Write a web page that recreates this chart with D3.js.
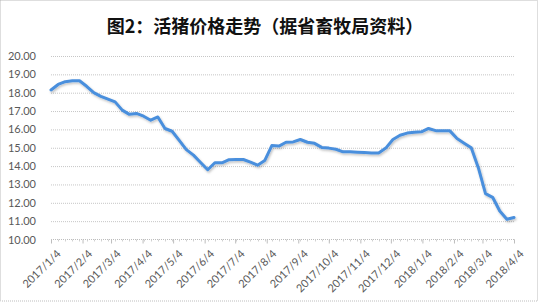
<!DOCTYPE html>
<html>
<head>
<meta charset="utf-8">
<script src="https://cdn.jsdelivr.net/npm/d3@7"></script>
<style>
  body { margin: 0; background: #fff; }
  #chart { width: 540px; height: 303px; }
  .grid line { stroke: #c6c6c6; stroke-dasharray: 1,1; }
  .grid .domain { display: none; }
  .tick text { fill: #595959; font-family: Lato, "Liberation Sans", sans-serif; font-size: 11px; }
</style>
</head>
<body>
<div id="chart"></div>
<script>
// weekly price dates (yyyy-mm-dd)
const dates = [
    "2017-01-04", "2017-01-11", "2017-01-18", "2017-01-25",
    "2017-02-01", "2017-02-08", "2017-02-15", "2017-02-22",
    "2017-03-01", "2017-03-08", "2017-03-15", "2017-03-22", "2017-03-29",
    "2017-04-05", "2017-04-12", "2017-04-19", "2017-04-26",
    "2017-05-03", "2017-05-10", "2017-05-17", "2017-05-24", "2017-05-31",
    "2017-06-07", "2017-06-14", "2017-06-21", "2017-06-28",
    "2017-07-05", "2017-07-12", "2017-07-19", "2017-07-26",
    "2017-08-02", "2017-08-09", "2017-08-16", "2017-08-23", "2017-08-30",
    "2017-09-06", "2017-09-13", "2017-09-20", "2017-09-27",
    "2017-10-04", "2017-10-11", "2017-10-18", "2017-10-25",
    "2017-11-01", "2017-11-08", "2017-11-15", "2017-11-22", "2017-11-29",
    "2017-12-06", "2017-12-13", "2017-12-20", "2017-12-27",
    "2018-01-03", "2018-01-10", "2018-01-17", "2018-01-24", "2018-01-31",
    "2018-02-07", "2018-02-14", "2018-02-21", "2018-02-28",
    "2018-03-07", "2018-03-14", "2018-03-21", "2018-03-28",
    "2018-04-04"
];

// live pig price, yuan/kg
const prices = [
    18.15, 18.45, 18.60, 18.65, 18.65, 18.35, 18.00, 17.80, 17.65, 17.50,
    17.05, 16.82, 16.87, 16.72, 16.50, 16.68, 16.05, 15.90, 15.40, 14.90,
    14.60, 14.20, 13.80, 14.18, 14.18, 14.35, 14.36, 14.36, 14.22, 14.05,
    14.30, 15.12, 15.09, 15.30, 15.32, 15.45, 15.30, 15.24, 15.02, 14.98,
    14.92, 14.78, 14.78, 14.76, 14.74, 14.72, 14.72, 14.98, 15.45, 15.68,
    15.80, 15.85, 15.87, 16.05, 15.93, 15.92, 15.92, 15.50, 15.25, 15.00,
    13.90, 12.50, 12.30, 11.55, 11.10, 11.20
];

const tickLabels = [
    "2017/1/4", "2017/2/4", "2017/3/4", "2017/4/4", "2017/5/4", "2017/6/4",
    "2017/7/4", "2017/8/4", "2017/9/4", "2017/10/4", "2017/11/4", "2017/12/4",
    "2018/1/4", "2018/2/4", "2018/3/4", "2018/4/4"
];

const yTicks = [10, 11, 12, 13, 14, 15, 16, 17, 18, 19, 20];

const title = "图2：活猪价格走势（据省畜牧局资料）";

const width = 540, height = 303;
const parse = d3.timeParse("%Y-%m-%d");
const parseLabel = d3.timeParse("%Y/%m/%d");

const data = dates.map((d, i) => ({ date: parse(d), value: prices[i] }));
const tickDates = tickLabels.map(parseLabel);

const svg = d3.select("#chart").append("svg")
    .attr("width", width)
    .attr("height", height);

// outer frame
svg.append("rect")
    .attr("x", 0.5).attr("y", 0.5)
    .attr("width", 537).attr("height", 300.5)
    .attr("fill", "none")
    .attr("stroke", "#bdbdbd")
    .attr("stroke-dasharray", "1,1");

svg.append("text")
    .attr("x", 265)
    .attr("y", 33)
    .attr("text-anchor", "middle")
    .style("font-family", "'Noto Sans CJK SC', sans-serif")
    .style("font-weight", "bold")
    .style("font-size", "18px")
    .style("fill", "#111")
    .text(title);

const x = d3.scaleTime()
    .domain([parse(dates[0]), parse(dates[dates.length - 1])])
    .range([51, 514]);

const y = d3.scaleLinear()
    .domain([10, 20])
    .range([239.5, 56]);

// horizontal gridlines + y labels
const yAxis = svg.append("g")
    .attr("class", "grid")
    .attr("transform", "translate(51,0)")
    .call(d3.axisLeft(y)
        .tickValues(yTicks)
        .tickSize(-(514 - 51))
        .tickPadding(15)
        .tickFormat(d3.format(".2f")));
yAxis.selectAll(".tick line").filter(d => d === 10).remove();

// x axis
const xAxis = svg.append("g")
    .attr("transform", `translate(0,${y(10)})`);

xAxis.append("line")
    .attr("x1", 51).attr("x2", 514)
    .attr("stroke", "#bdbdbd")
    .attr("stroke-dasharray", "1,1");

// weekly minor ticks
xAxis.selectAll(".minor")
    .data(data)
    .enter().append("line")
    .attr("class", "minor")
    .attr("x1", d => Math.round(x(d.date)) + 0.5)
    .attr("x2", d => Math.round(x(d.date)) + 0.5)
    .attr("y1", 0).attr("y2", 2)
    .attr("stroke", "#d0d0d0");

xAxis.call(d3.axisBottom(x)
        .tickValues(tickDates)
        .tickSize(4)
        .tickFormat((d, i) => tickLabels[i]))
    .call(g => g.select(".domain").remove())
    .call(g => g.selectAll(".tick line").attr("stroke", "#bdbdbd"))
    .call(g => g.selectAll(".tick text")
        .attr("text-anchor", "end")
        .attr("dy", null)
        .attr("transform", "translate(5,10) rotate(-45)"));

// soft shadow under the line
const defs = svg.append("defs");
const filter = defs.append("filter").attr("id", "shadow")
    .attr("x", "-5%").attr("y", "-5%").attr("width", "110%").attr("height", "110%");
filter.append("feDropShadow")
    .attr("dx", 1).attr("dy", 1.5)
    .attr("stdDeviation", 1)
    .attr("flood-color", "#000")
    .attr("flood-opacity", 0.25);

const line = d3.line()
    .x(d => x(d.date))
    .y(d => y(d.value));

svg.append("path")
    .datum(data)
    .attr("d", line)
    .attr("fill", "none")
    .attr("stroke", "#4a8fdd")
    .attr("stroke-width", 3)
    .attr("stroke-linejoin", "round")
    .attr("stroke-linecap", "round")
    .attr("filter", "url(#shadow)");
</script>
</body>
</html>
